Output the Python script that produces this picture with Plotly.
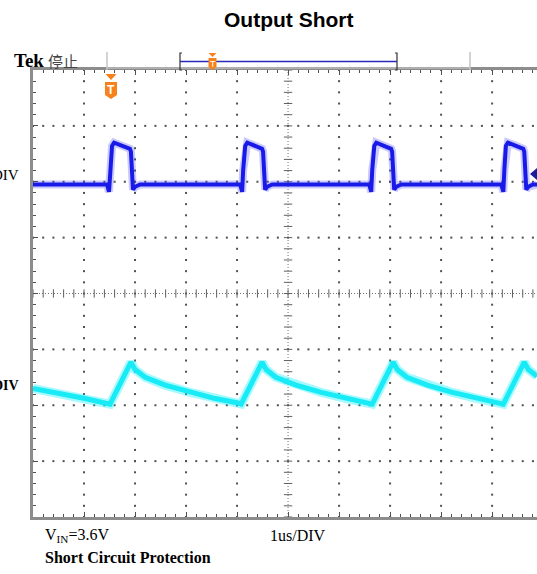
import plotly.graph_objects as go
import numpy as np

# ---- data (time in µs at 1 µs/div, amplitude in screen divisions from centre) ----
ch1_t = [0.00,
         1.45, 1.49, 1.51, 1.55, 1.59, 1.71, 1.90, 1.92, 1.96, 2.00, 2.10,
         4.06, 4.10, 4.12, 4.16, 4.20, 4.31, 4.49, 4.51, 4.55, 4.59, 4.69,
         6.59, 6.63, 6.65, 6.69, 6.73, 6.84, 7.02, 7.04, 7.08, 7.12, 7.22,
         9.18, 9.22, 9.24, 9.27, 9.31, 9.43, 9.61, 9.63, 9.67, 9.71, 9.80, 9.88]
ch1_v = [1.95,
         1.95, 1.82, 2.21, 2.64, 2.70, 2.66, 2.59, 2.54, 1.86, 1.91, 1.95,
         1.95, 1.82, 2.21, 2.64, 2.70, 2.66, 2.59, 2.54, 1.86, 1.91, 1.95,
         1.95, 1.82, 2.21, 2.64, 2.70, 2.66, 2.59, 2.54, 1.86, 1.91, 1.95,
         1.95, 1.82, 2.21, 2.64, 2.70, 2.66, 2.59, 2.54, 1.86, 1.91, 1.95, 1.95]

ch2_t = [0.00, 0.53, 1.02, 1.51,
         1.92, 2.00, 2.20, 2.59, 3.08, 3.57, 4.02, 4.08,
         4.49, 4.57, 4.76, 5.16, 5.65, 6.14, 6.59, 6.65,
         7.06, 7.14, 7.33, 7.73, 8.22, 8.71, 9.16, 9.22,
         9.63, 9.71, 9.88]
ch2_v = [-1.70, -1.79, -1.88, -1.98,
         -1.23, -1.36, -1.50, -1.64, -1.77, -1.88, -1.96, -1.98,
         -1.23, -1.36, -1.50, -1.64, -1.77, -1.88, -1.96, -1.98,
         -1.23, -1.36, -1.50, -1.64, -1.77, -1.88, -1.96, -1.98,
         -1.23, -1.36, -1.48]

title_text = "<b>Output Short</b>"
vin_text = "V<sub>IN</sub>=3.6V"
timebase_text = "1us/DIV"
mode_text = "<b>Short Circuit Protection</b>"
ch_label = "DIV"

X_MAX = 9.88
W, H = 537, 574
L, T, B = 33, 70, 57
PW, PH = W - L, H - T - B


def px(x):
    return (x - L) / PW


def py(y):
    return (H - B - y) / PH


fig = go.Figure()

# ---- graticule dots ----
gx, gy = [], []
for t in range(1, 10):
    if t == 5:
        continue
    for k in range(0, 41):
        gx.append(t)
        gy.append(-4 + 0.2 * k)
for v in range(-3, 4):
    if v == 0:
        continue
    for k in range(0, 50):
        gx.append(0.2 * k)
        gy.append(v)
fig.add_trace(go.Scatter(x=gx, y=gy, mode="markers",
                         marker=dict(symbol="square", size=2, color="#505050"),
                         hoverinfo="skip", showlegend=False))

# centre cross ticks
cx = [0.2 * k for k in range(0, 50)]
fig.add_trace(go.Scatter(x=cx, y=[0] * len(cx), mode="markers",
                         marker=dict(symbol="line-ns", size=6, line=dict(width=1, color="#606060")),
                         hoverinfo="skip", showlegend=False))
cy = [-4 + 0.2 * k for k in range(0, 41)]
fig.add_trace(go.Scatter(x=[5] * len(cy), y=cy, mode="markers",
                         marker=dict(symbol="line-ew", size=6, line=dict(width=1, color="#606060")),
                         hoverinfo="skip", showlegend=False))

# ---- waveforms ----
fig.add_trace(go.Scatter(x=ch1_t, y=ch1_v, mode="lines",
                         line=dict(color="rgba(80,80,255,0.3)", width=8),
                         hoverinfo="skip", showlegend=False))
fig.add_trace(go.Scatter(x=ch1_t, y=ch1_v, mode="lines",
                         line=dict(color="#1a1ae8", width=4),
                         hoverinfo="skip", showlegend=False))
fig.add_trace(go.Scatter(x=ch2_t, y=ch2_v, mode="lines",
                         line=dict(color="rgba(0,240,255,0.35)", width=9),
                         hoverinfo="skip", showlegend=False))
fig.add_trace(go.Scatter(x=ch2_t, y=ch2_v, mode="lines",
                         line=dict(color="#18eaf6", width=5),
                         hoverinfo="skip", showlegend=False))

shapes = []
# centre cross dotted lines
shapes.append(dict(type="line", xref="x", yref="y", x0=5, x1=5, y0=-4, y1=4,
                   line=dict(color="#707070", width=1, dash="1px,2px"), layer="below"))
shapes.append(dict(type="line", xref="x", yref="y", x0=0, x1=X_MAX, y0=0, y1=0,
                   line=dict(color="#707070", width=1, dash="1px,2px"), layer="below"))

# record bar above screen
shapes.append(dict(type="line", xref="paper", yref="paper", x0=px(107), x1=px(107), y0=py(52), y1=py(70),
                   line=dict(color="#c4c4c4", width=1.5)))
shapes.append(dict(type="line", xref="paper", yref="paper", x0=px(470), x1=px(470), y0=py(52), y1=py(70),
                   line=dict(color="#c4c4c4", width=1.5)))
shapes.append(dict(type="line", xref="paper", yref="paper", x0=px(107), x1=px(470), y0=py(68), y1=py(68),
                   line=dict(color="#d0d0d0", width=1)))
for bx, d in [(180, 2), (397, -2)]:
    shapes.append(dict(type="path", xref="paper", yref="paper",
                       path=f"M {px(bx + d)},{py(53)} L {px(bx)},{py(53)} L {px(bx)},{py(70)} L {px(bx + d)},{py(70)}",
                       line=dict(color="#333333", width=1.2)))
shapes.append(dict(type="line", xref="paper", yref="paper", x0=px(180), x1=px(397), y0=py(61.5), y1=py(61.5),
                   line=dict(color="#2a2ab8", width=1.5)))

ORANGE = "#f7821b"
# small trigger marker in record bar
shapes.append(dict(type="path", xref="paper", yref="paper",
                   path=f"M {px(208.5)},{py(53)} L {px(216.5)},{py(53)} L {px(212.5)},{py(57)} Z",
                   fillcolor=ORANGE, line=dict(width=0)))
shapes.append(dict(type="path", xref="paper", yref="paper",
                   path=f"M {px(208.5)},{py(58)} L {px(216.5)},{py(58)} L {px(216.5)},{py(67)} "
                        f"L {px(212.5)},{py(70)} L {px(208.5)},{py(67)} Z",
                   fillcolor=ORANGE, line=dict(width=0)))
# trigger position marker below top edge
shapes.append(dict(type="path", xref="paper", yref="paper",
                   path=f"M {px(105.5)},{py(74)} L {px(116.5)},{py(74)} L {px(111)},{py(80)} Z",
                   fillcolor=ORANGE, line=dict(width=0)))
shapes.append(dict(type="path", xref="paper", yref="paper",
                   path=f"M {px(105)},{py(82)} L {px(117)},{py(82)} L {px(117)},{py(95)} "
                        f"L {px(111)},{py(99)} L {px(105)},{py(95)} Z",
                   fillcolor=ORANGE, line=dict(width=0)))
# channel 1 reference marker at right edge
shapes.append(dict(type="path", xref="paper", yref="paper",
                   path=f"M {px(530)},{py(174)} L {px(537)},{py(168)} L {px(537)},{py(180)} Z",
                   fillcolor="#1c1c9c", line=dict(width=0)))

SERIF = "Liberation Serif, Times New Roman"
annotations = [
    dict(text=title_text, xref="paper", yref="paper", x=px(288), y=py(19), xanchor="center", yanchor="middle",
         showarrow=False, font=dict(family="Liberation Sans, Arial", size=21, color="#000000")),
    dict(text="<b>Tek</b>", xref="paper", yref="paper", x=px(12), y=py(60), xanchor="left", yanchor="middle",
         showarrow=False, font=dict(family=SERIF, size=19, color="#000000")),
    dict(text="停止", xref="paper", yref="paper", x=px(46), y=py(60), xanchor="left", yanchor="middle",
         showarrow=False, font=dict(family="Noto Sans CJK TC", size=15, color="#444444")),
    dict(text="T", xref="paper", yref="paper", x=px(212.5), y=py(63.5), xanchor="center", yanchor="middle",
         showarrow=False, font=dict(family="Liberation Sans, Arial", size=9, color="#ffffff")),
    dict(text="<b>T</b>", xref="paper", yref="paper", x=px(111), y=py(89.5), xanchor="center", yanchor="middle",
         showarrow=False, font=dict(family="Liberation Sans, Arial", size=12, color="#ffffff")),
    dict(text=ch_label, xref="paper", yref="paper", x=px(21), y=py(175), xanchor="right", yanchor="middle",
         showarrow=False, font=dict(family=SERIF, size=15, color="#000000")),
    dict(text="<b>" + ch_label + "</b>", xref="paper", yref="paper", x=px(21), y=py(385), xanchor="right",
         yanchor="middle", showarrow=False, font=dict(family=SERIF, size=14, color="#000000")),
    dict(text=vin_text, xref="paper", yref="paper", x=px(43), y=py(535), xanchor="left", yanchor="middle",
         showarrow=False, font=dict(family=SERIF, size=16, color="#000000")),
    dict(text=timebase_text, xref="paper", yref="paper", x=px(268), y=py(535), xanchor="left", yanchor="middle",
         showarrow=False, font=dict(family=SERIF, size=16, color="#000000")),
    dict(text=mode_text, xref="paper", yref="paper", x=px(43), y=py(557), xanchor="left", yanchor="middle",
         showarrow=False, font=dict(family=SERIF, size=16, color="#000000")),
]

axis_common = dict(showgrid=False, zeroline=False, showline=True, linecolor="#8c8c8c", linewidth=3,
                   ticks="inside", ticklen=5, tickcolor="#505050", tickwidth=1, showticklabels=False,
                   dtick=1, tick0=0,
                   minor=dict(dtick=0.2, ticks="inside", ticklen=3, tickcolor="#505050", showgrid=False),
                   fixedrange=True)

fig.update_layout(
    width=W, height=H, autosize=False,
    margin=dict(l=L, r=0, t=T, b=B, pad=0),
    paper_bgcolor="white", plot_bgcolor="white",
    showlegend=False,
    xaxis=dict(range=[0, X_MAX], mirror="ticks", **axis_common),
    yaxis=dict(range=[-4, 4], mirror=False, **axis_common),
    shapes=shapes,
    annotations=annotations,
)

fig.write_html(
    "out.html",
    config={"displayModeBar": False, "staticPlot": True},
    post_script="document.body.style.margin='0px';document.body.style.overflow='hidden';",
)
